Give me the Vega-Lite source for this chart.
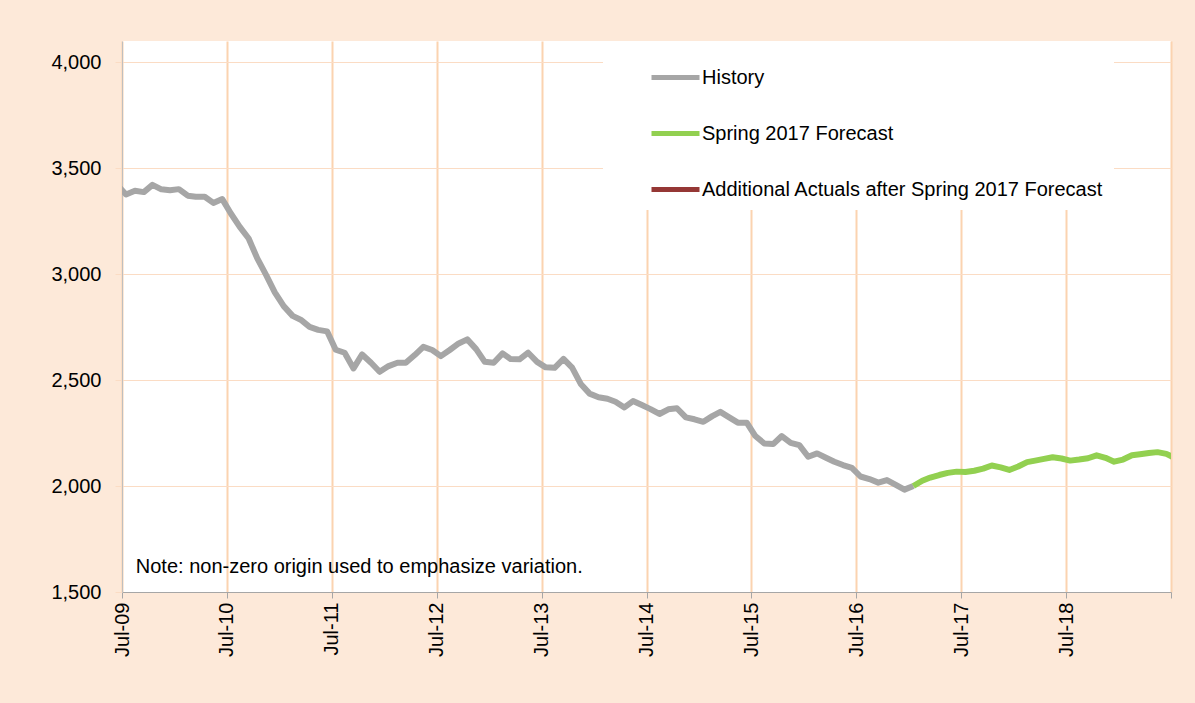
{
  "$schema": "https://vega.github.io/schema/vega-lite/v6.json",
  "width": 1049,
  "height": 551,
  "autosize": {"type": "none"},
  "padding": {"left": 122, "top": 41, "right": 24, "bottom": 111},
  "background": "#FDE9D9",
  "config": {"view": {"fill": "white", "stroke": null}, "font": "Liberation Sans"},
  "datasets": {
    "main": [
      {"date": "2009-06-15", "value": 3420, "series": "History"},
      {"date": "2009-07-15", "value": 3376, "series": "History"},
      {"date": "2009-08-15", "value": 3393, "series": "History"},
      {"date": "2009-09-15", "value": 3387, "series": "History"},
      {"date": "2009-10-15", "value": 3421, "series": "History"},
      {"date": "2009-11-15", "value": 3400, "series": "History"},
      {"date": "2009-12-15", "value": 3396, "series": "History"},
      {"date": "2010-01-15", "value": 3401, "series": "History"},
      {"date": "2010-02-15", "value": 3370, "series": "History"},
      {"date": "2010-03-15", "value": 3365, "series": "History"},
      {"date": "2010-04-15", "value": 3365, "series": "History"},
      {"date": "2010-05-15", "value": 3336, "series": "History"},
      {"date": "2010-06-15", "value": 3354, "series": "History"},
      {"date": "2010-07-15", "value": 3286, "series": "History"},
      {"date": "2010-08-15", "value": 3223, "series": "History"},
      {"date": "2010-09-15", "value": 3168, "series": "History"},
      {"date": "2010-10-15", "value": 3074, "series": "History"},
      {"date": "2010-11-15", "value": 2995, "series": "History"},
      {"date": "2010-12-15", "value": 2914, "series": "History"},
      {"date": "2011-01-15", "value": 2849, "series": "History"},
      {"date": "2011-02-15", "value": 2803, "series": "History"},
      {"date": "2011-03-15", "value": 2785, "series": "History"},
      {"date": "2011-04-15", "value": 2751, "series": "History"},
      {"date": "2011-05-15", "value": 2737, "series": "History"},
      {"date": "2011-06-15", "value": 2730, "series": "History"},
      {"date": "2011-07-15", "value": 2643, "series": "History"},
      {"date": "2011-08-15", "value": 2629, "series": "History"},
      {"date": "2011-09-15", "value": 2555, "series": "History"},
      {"date": "2011-10-15", "value": 2621, "series": "History"},
      {"date": "2011-11-15", "value": 2582, "series": "History"},
      {"date": "2011-12-15", "value": 2539, "series": "History"},
      {"date": "2012-01-15", "value": 2566, "series": "History"},
      {"date": "2012-02-15", "value": 2582, "series": "History"},
      {"date": "2012-03-15", "value": 2582, "series": "History"},
      {"date": "2012-04-15", "value": 2618, "series": "History"},
      {"date": "2012-05-15", "value": 2657, "series": "History"},
      {"date": "2012-06-15", "value": 2642, "series": "History"},
      {"date": "2012-07-15", "value": 2613, "series": "History"},
      {"date": "2012-08-15", "value": 2642, "series": "History"},
      {"date": "2012-09-15", "value": 2673, "series": "History"},
      {"date": "2012-10-15", "value": 2692, "series": "History"},
      {"date": "2012-11-15", "value": 2646, "series": "History"},
      {"date": "2012-12-15", "value": 2586, "series": "History"},
      {"date": "2013-01-15", "value": 2582, "series": "History"},
      {"date": "2013-02-15", "value": 2626, "series": "History"},
      {"date": "2013-03-15", "value": 2599, "series": "History"},
      {"date": "2013-04-15", "value": 2598, "series": "History"},
      {"date": "2013-05-15", "value": 2629, "series": "History"},
      {"date": "2013-06-15", "value": 2586, "series": "History"},
      {"date": "2013-07-15", "value": 2560, "series": "History"},
      {"date": "2013-08-15", "value": 2558, "series": "History"},
      {"date": "2013-09-15", "value": 2600, "series": "History"},
      {"date": "2013-10-15", "value": 2559, "series": "History"},
      {"date": "2013-11-15", "value": 2480, "series": "History"},
      {"date": "2013-12-15", "value": 2436, "series": "History"},
      {"date": "2014-01-15", "value": 2419, "series": "History"},
      {"date": "2014-02-15", "value": 2412, "series": "History"},
      {"date": "2014-03-15", "value": 2398, "series": "History"},
      {"date": "2014-04-15", "value": 2371, "series": "History"},
      {"date": "2014-05-15", "value": 2401, "series": "History"},
      {"date": "2014-06-15", "value": 2382, "series": "History"},
      {"date": "2014-07-15", "value": 2363, "series": "History"},
      {"date": "2014-08-15", "value": 2340, "series": "History"},
      {"date": "2014-09-15", "value": 2362, "series": "History"},
      {"date": "2014-10-15", "value": 2367, "series": "History"},
      {"date": "2014-11-15", "value": 2324, "series": "History"},
      {"date": "2014-12-15", "value": 2315, "series": "History"},
      {"date": "2015-01-15", "value": 2303, "series": "History"},
      {"date": "2015-02-15", "value": 2330, "series": "History"},
      {"date": "2015-03-15", "value": 2350, "series": "History"},
      {"date": "2015-04-15", "value": 2324, "series": "History"},
      {"date": "2015-05-15", "value": 2299, "series": "History"},
      {"date": "2015-06-15", "value": 2299, "series": "History"},
      {"date": "2015-07-15", "value": 2236, "series": "History"},
      {"date": "2015-08-15", "value": 2201, "series": "History"},
      {"date": "2015-09-15", "value": 2198, "series": "History"},
      {"date": "2015-10-15", "value": 2236, "series": "History"},
      {"date": "2015-11-15", "value": 2204, "series": "History"},
      {"date": "2015-12-15", "value": 2193, "series": "History"},
      {"date": "2016-01-15", "value": 2138, "series": "History"},
      {"date": "2016-02-15", "value": 2154, "series": "History"},
      {"date": "2016-03-15", "value": 2135, "series": "History"},
      {"date": "2016-04-15", "value": 2115, "series": "History"},
      {"date": "2016-05-15", "value": 2099, "series": "History"},
      {"date": "2016-06-15", "value": 2086, "series": "History"},
      {"date": "2016-07-15", "value": 2045, "series": "History"},
      {"date": "2016-08-15", "value": 2033, "series": "History"},
      {"date": "2016-09-15", "value": 2016, "series": "History"},
      {"date": "2016-10-15", "value": 2028, "series": "History"},
      {"date": "2016-11-15", "value": 2005, "series": "History"},
      {"date": "2016-12-15", "value": 1983, "series": "History"},
      {"date": "2017-01-15", "value": 2000, "series": "History"},
      {"date": "2017-01-15", "value": 2000, "series": "Spring 2017 Forecast"},
      {"date": "2017-02-15", "value": 2025, "series": "Spring 2017 Forecast"},
      {"date": "2017-03-15", "value": 2040, "series": "Spring 2017 Forecast"},
      {"date": "2017-04-15", "value": 2052, "series": "Spring 2017 Forecast"},
      {"date": "2017-05-15", "value": 2062, "series": "Spring 2017 Forecast"},
      {"date": "2017-06-15", "value": 2068, "series": "Spring 2017 Forecast"},
      {"date": "2017-07-15", "value": 2066, "series": "Spring 2017 Forecast"},
      {"date": "2017-08-15", "value": 2072, "series": "Spring 2017 Forecast"},
      {"date": "2017-09-15", "value": 2082, "series": "Spring 2017 Forecast"},
      {"date": "2017-10-15", "value": 2097, "series": "Spring 2017 Forecast"},
      {"date": "2017-11-15", "value": 2088, "series": "Spring 2017 Forecast"},
      {"date": "2017-12-15", "value": 2076, "series": "Spring 2017 Forecast"},
      {"date": "2018-01-15", "value": 2092, "series": "Spring 2017 Forecast"},
      {"date": "2018-02-15", "value": 2113, "series": "Spring 2017 Forecast"},
      {"date": "2018-03-15", "value": 2120, "series": "Spring 2017 Forecast"},
      {"date": "2018-04-15", "value": 2128, "series": "Spring 2017 Forecast"},
      {"date": "2018-05-15", "value": 2136, "series": "Spring 2017 Forecast"},
      {"date": "2018-06-15", "value": 2130, "series": "Spring 2017 Forecast"},
      {"date": "2018-07-15", "value": 2120, "series": "Spring 2017 Forecast"},
      {"date": "2018-08-15", "value": 2125, "series": "Spring 2017 Forecast"},
      {"date": "2018-09-15", "value": 2131, "series": "Spring 2017 Forecast"},
      {"date": "2018-10-15", "value": 2145, "series": "Spring 2017 Forecast"},
      {"date": "2018-11-15", "value": 2133, "series": "Spring 2017 Forecast"},
      {"date": "2018-12-15", "value": 2115, "series": "Spring 2017 Forecast"},
      {"date": "2019-01-15", "value": 2125, "series": "Spring 2017 Forecast"},
      {"date": "2019-02-15", "value": 2145, "series": "Spring 2017 Forecast"},
      {"date": "2019-03-15", "value": 2150, "series": "Spring 2017 Forecast"},
      {"date": "2019-04-15", "value": 2156, "series": "Spring 2017 Forecast"},
      {"date": "2019-05-15", "value": 2160, "series": "Spring 2017 Forecast"},
      {"date": "2019-06-15", "value": 2152, "series": "Spring 2017 Forecast"},
      {"date": "2019-07-15", "value": 2132, "series": "Spring 2017 Forecast"}
    ],
    "note": [
      {"note": "Note: non-zero origin used to emphasize variation."}
    ]
  },
  "layer": [
    {
      "data": {"name": "main"},
      "mark": {"type": "line", "strokeWidth": 6, "strokeJoin": "round", "clip": true},
      "encoding": {
        "x": {
          "field": "date",
          "type": "temporal",
          "scale": {
            "type": "utc",
            "domain": [
              {"year": 2009, "month": 7, "date": 1, "utc": true},
              {"year": 2019, "month": 7, "date": 1, "utc": true}
            ]
          },
          "axis": {
            "title": null,
            "values": [
              {"year": 2009, "month": 7, "date": 1, "utc": true},
              {"year": 2010, "month": 7, "date": 1, "utc": true},
              {"year": 2011, "month": 7, "date": 1, "utc": true},
              {"year": 2012, "month": 7, "date": 1, "utc": true},
              {"year": 2013, "month": 7, "date": 1, "utc": true},
              {"year": 2014, "month": 7, "date": 1, "utc": true},
              {"year": 2015, "month": 7, "date": 1, "utc": true},
              {"year": 2016, "month": 7, "date": 1, "utc": true},
              {"year": 2017, "month": 7, "date": 1, "utc": true},
              {"year": 2018, "month": 7, "date": 1, "utc": true},
              {"year": 2019, "month": 7, "date": 1, "utc": true}
            ],
            "labelExpr": "utcyear(datum.value) == 2019 ? '' : utcFormat(datum.value, '%b-%y')",
            "labelAngle": -90,
            "labelFontSize": 20,
            "labelFont": "Liberation Sans",
            "labelColor": "#000000",
            "labelPadding": 4,
            "labelOverlap": false,
            "labelFlush": false,
            "tickSize": 6,
            "tickColor": "#A6A6A6",
            "domainColor": "#A6A6A6",
            "grid": true,
            "gridColor": "#FBD3B0",
            "gridWidth": 2
          }
        },
        "y": {
          "field": "value",
          "type": "quantitative",
          "scale": {"domain": [1500, 4100], "nice": false, "zero": false},
          "axis": {
            "title": null,
            "values": [1500, 2000, 2500, 3000, 3500, 4000],
            "format": ",.0f",
            "labelFontSize": 20,
            "labelFont": "Liberation Sans",
            "labelColor": "#000000",
            "labelPadding": 14,
            "tickSize": 7,
            "tickColor": "#FBDCC4",
            "domainColor": "#BFBFBF",
            "grid": true,
            "gridColor": "#FBDCC4",
            "gridWidth": 1
          }
        },
        "color": {
          "field": "series",
          "type": "nominal",
          "scale": {
            "domain": ["History", "Spring 2017 Forecast", "Additional Actuals after Spring 2017 Forecast"],
            "range": ["#A6A6A6", "#92D050", "#953735"]
          },
          "legend": {
            "title": null,
            "orient": "none",
            "legendX": 481,
            "legendY": 0,
            "fillColor": "#FFFFFF",
            "padding": 10,
            "symbolType": "stroke",
            "symbolSize": 2304,
            "symbolStrokeWidth": 5,
            "symbolOffset": 36,
            "labelOffset": 0,
            "rowPadding": 19,
            "labelFontSize": 20,
            "labelFont": "Liberation Sans",
            "labelColor": "#000000",
            "labelLimit": 600
          }
        }
      }
    },
    {
      "data": {"name": "note"},
      "mark": {"type": "text", "align": "left", "baseline": "middle", "fontSize": 20, "font": "Liberation Sans", "color": "#000000"},
      "encoding": {
        "x": {"datum": {"year": 2009, "month": 8, "date": 18, "utc": true}, "type": "temporal"},
        "y": {"datum": 1618, "type": "quantitative"},
        "text": {"field": "note", "type": "nominal"}
      }
    }
  ]
}
